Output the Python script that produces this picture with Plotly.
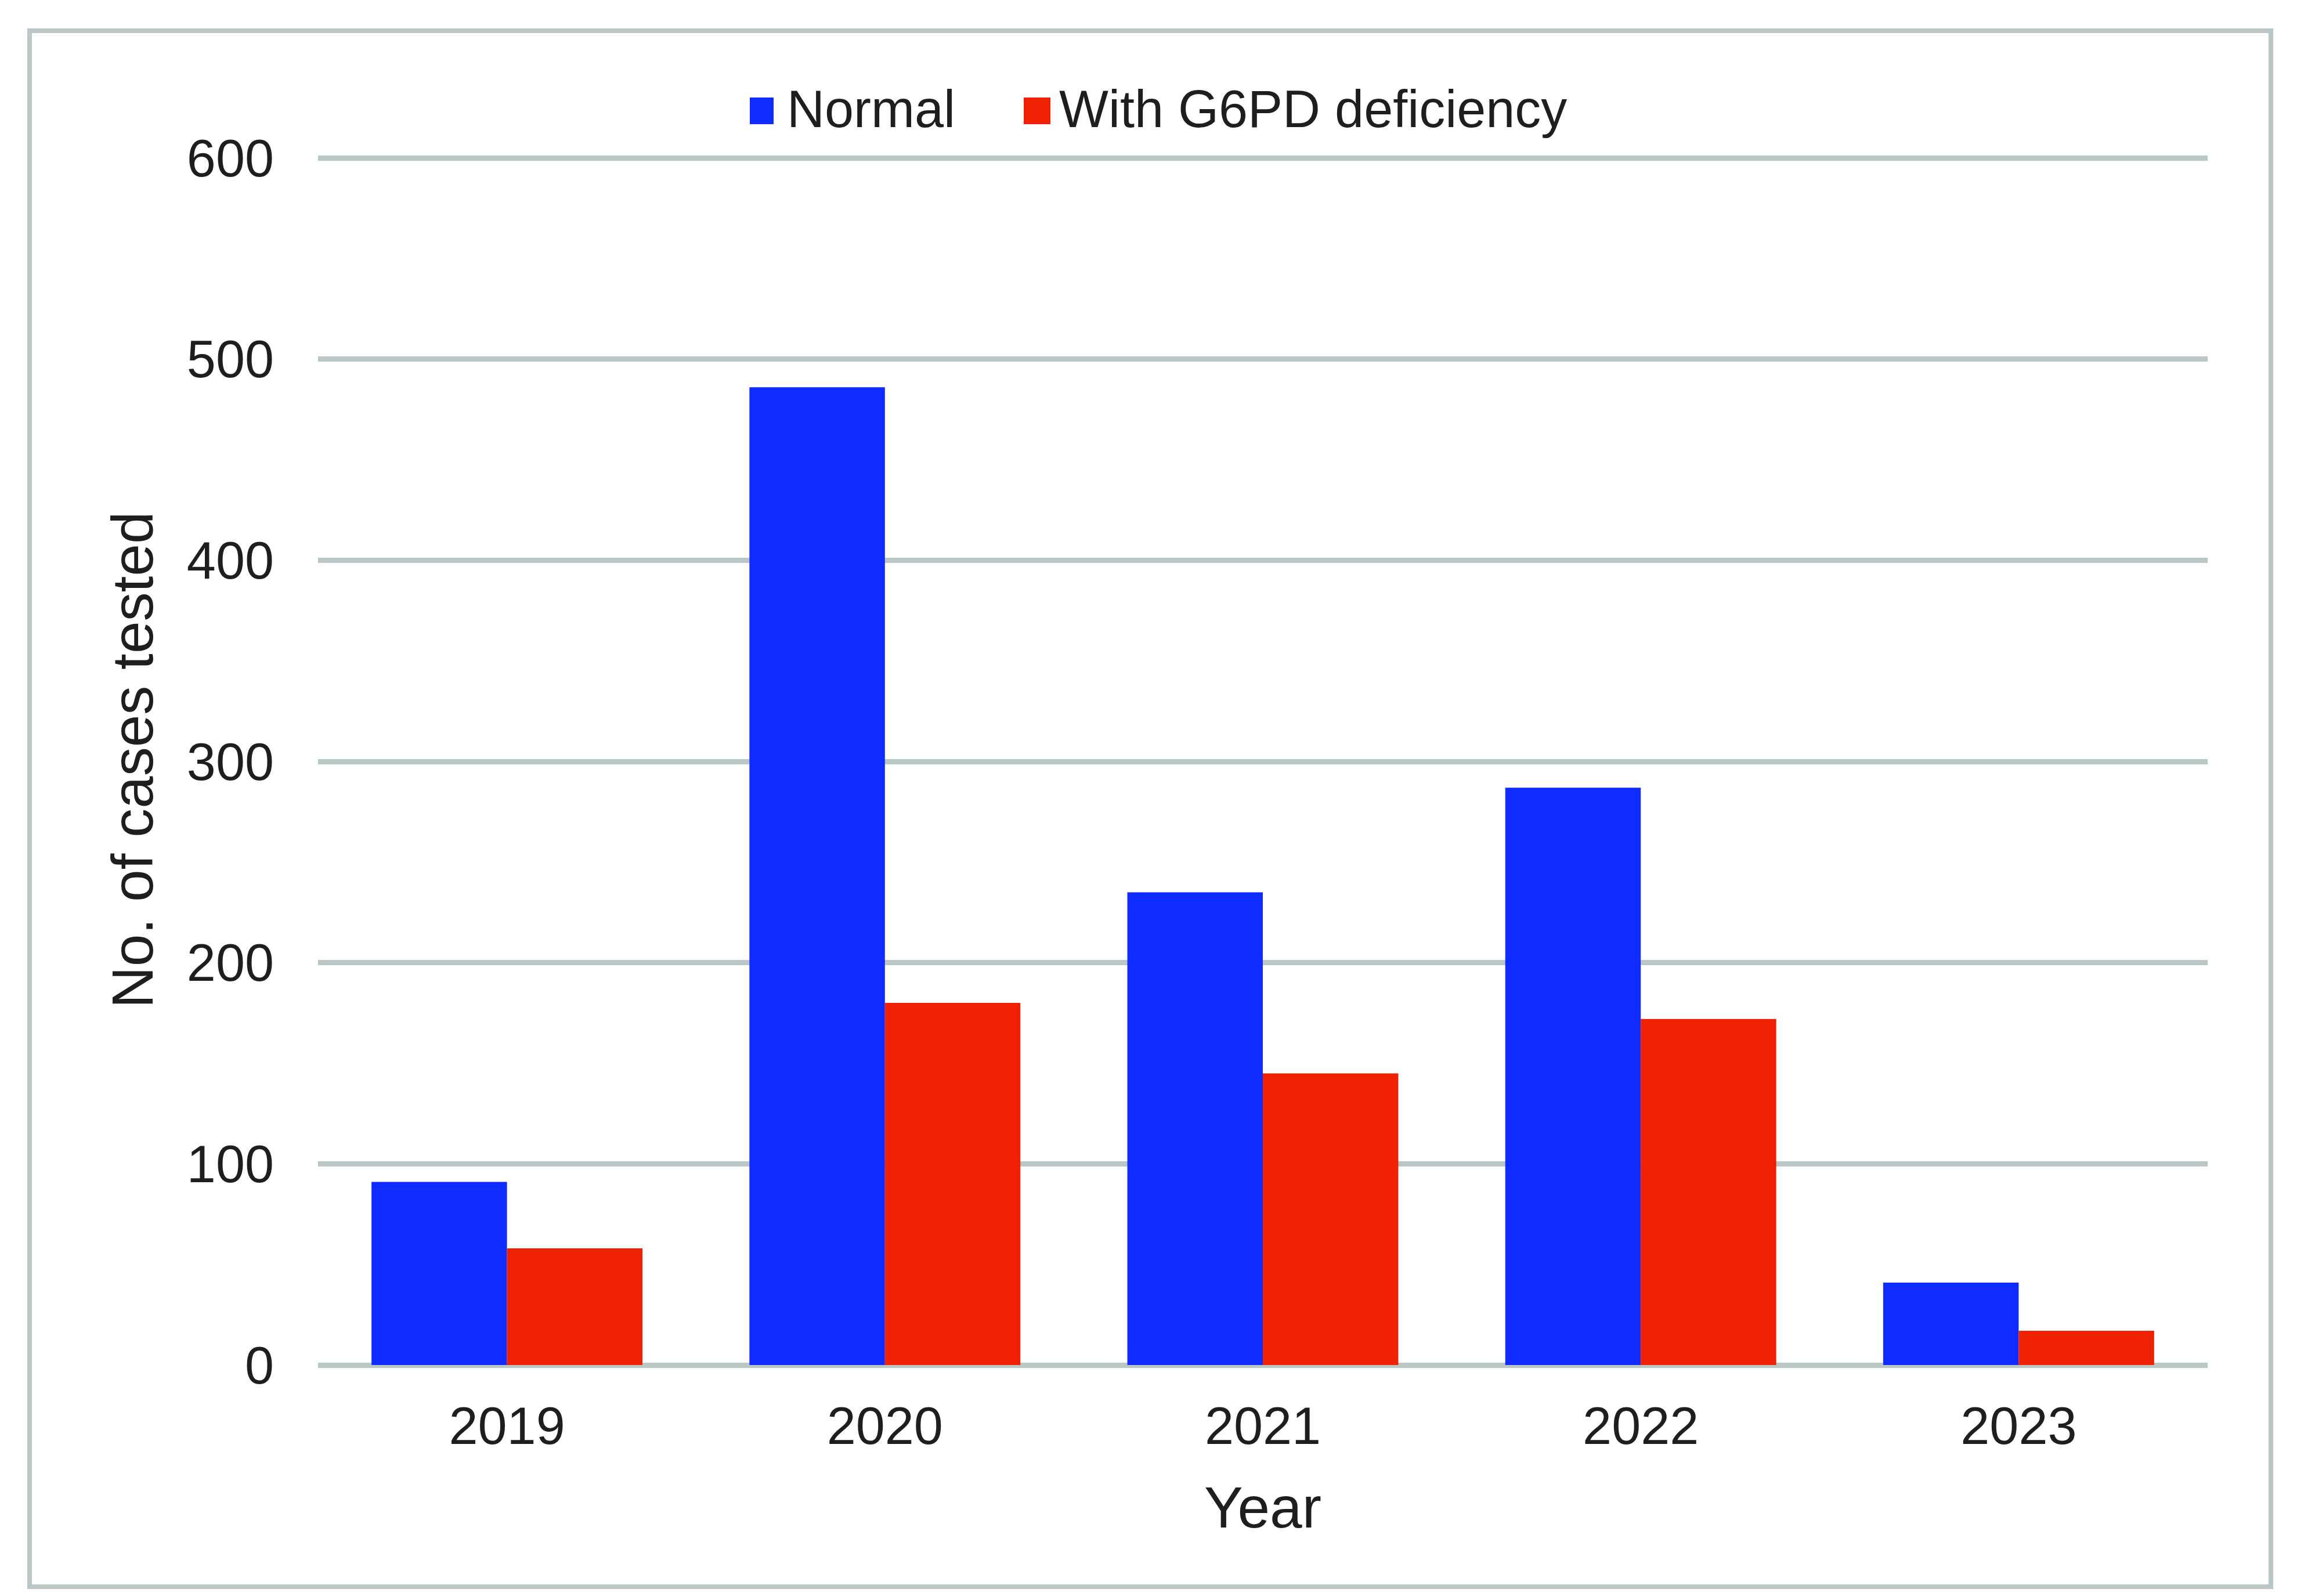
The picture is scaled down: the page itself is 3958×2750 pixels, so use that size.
import plotly.graph_objects as go

years = ["2019", "2020", "2021", "2022", "2023"]
normal = [91, 486, 235, 287, 41]
g6pd = [58, 180, 145, 172, 17]
series_names = ["Normal", "With G6PD deficiency"]
colors = ["#0f2bff", "#ee2103"]
y_ticks = [0, 100, 200, 300, 400, 500, 600]

FONT = "Liberation Sans, Arial, sans-serif"
TXT = "#1e1e1e"
GRID = "#bac7c6"

fig = go.Figure()
for name, vals, col in zip(series_names, [normal, g6pd], colors):
    fig.add_trace(go.Bar(x=years, y=vals, name=name, marker=dict(color=col, line=dict(width=0)),
                         showlegend=False))

W, H = 3958, 2750
L, R, T, B = 548, 154, 267, 398
pw, ph = W - L - R, H - T - B

def px(x):
    return (x - L) / pw

def py(y):
    return (H - B - y) / ph

shapes = [
    # outer border
    dict(type="rect", xref="paper", yref="paper", x0=px(51), x1=px(3913), y0=py(2734), y1=py(53),
         line=dict(color=GRID, width=8), fillcolor="rgba(0,0,0,0)", layer="below"),
    # legend swatches
    dict(type="rect", xref="paper", yref="paper", x0=px(1292), x1=px(1333), y0=py(214), y1=py(168),
         line=dict(width=0), fillcolor=colors[0]),
    dict(type="rect", xref="paper", yref="paper", x0=px(1764), x1=px(1810), y0=py(214), y1=py(168),
         line=dict(width=0), fillcolor=colors[1]),
]
annotations = [
    dict(text=series_names[0], xref="paper", yref="paper", x=px(1354), y=py(188), xanchor="left",
         yanchor="middle", showarrow=False, font=dict(size=90, color=TXT, family=FONT)),
    dict(text=series_names[1], xref="paper", yref="paper", x=px(1823), y=py(188), xanchor="left",
         yanchor="middle", showarrow=False, font=dict(size=90, color=TXT, family=FONT)),
]

fig.update_layout(
    width=W, height=H,
    margin=dict(l=L, r=R, t=T, b=B),
    paper_bgcolor="white", plot_bgcolor="white",
    barmode="group", bargap=0.283, bargroupgap=0,
    font=dict(family=FONT, color=TXT, size=90),
    shapes=shapes, annotations=annotations,
    showlegend=False,
)
fig.update_xaxes(
    showgrid=False, showline=False, zeroline=False,
    tickfont=dict(size=90, color=TXT, family=FONT),
    ticks="", ticklabelstandoff=45,
    title=dict(text="Year", font=dict(size=100, color=TXT, family=FONT), standoff=55),
)
fig.update_yaxes(
    range=[0, 601.5], tickvals=y_ticks, ticktext=[str(v) for v in y_ticks],
    showgrid=True, gridcolor=GRID, gridwidth=9,
    zeroline=True, zerolinecolor=GRID, zerolinewidth=9,
    showline=False, ticks="", ticklabelstandoff=75,
    tickfont=dict(size=90, color=TXT, family=FONT),
    title=dict(text="No. of cases tested", font=dict(size=100, color=TXT, family=FONT), standoff=24),
)

fig.write_html("out.html")
